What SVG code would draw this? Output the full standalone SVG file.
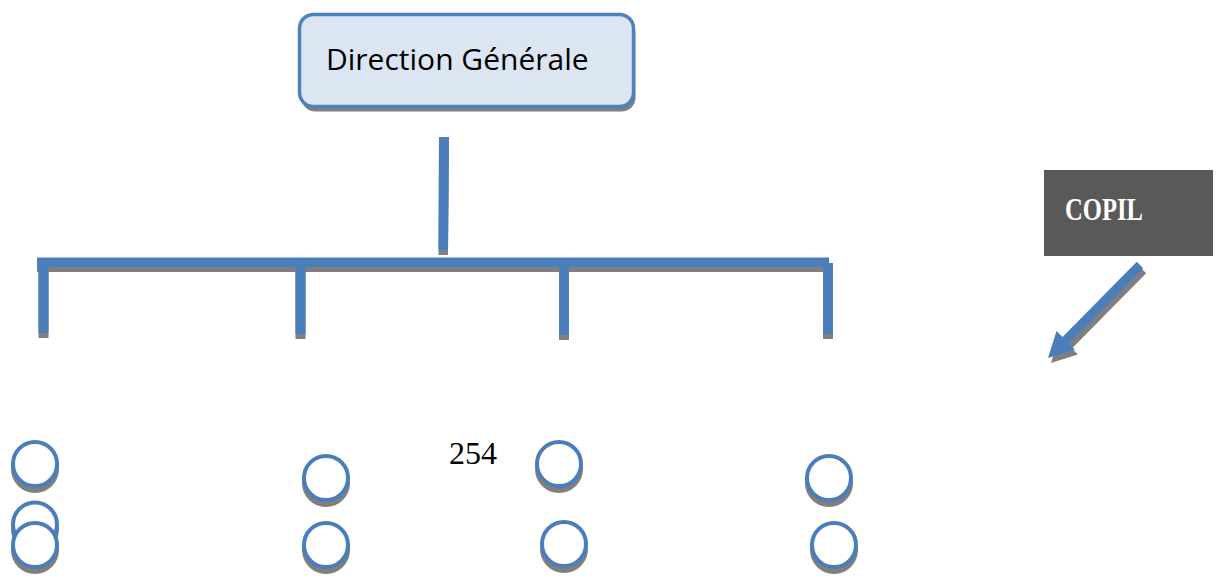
<svg xmlns="http://www.w3.org/2000/svg" xmlns:xlink="http://www.w3.org/1999/xlink" width="1221" height="578" viewBox="0 0 1221 578">
  <style>
    .shadow { fill: #7f7f7f; }
    .blue { fill: #4a7ebb; }
    .ring { fill: #ffffff; stroke: #4a7ebb; stroke-width: 4; }
    .ring-shadow { fill: #7f7f7f; }
    .title { font-family: "Open Sans", "Liberation Sans", sans-serif; font-size: 30px; fill: #000000; }
    .serif { font-family: "Liberation Serif", "DejaVu Serif", serif; }
  </style>
  <defs>
    <!-- organisation tree bars -->
    <g id="tree">
      <polygon points="439,137 449,137 448,250 438.5,250"/>
      <rect x="37" y="257.5" width="792" height="9.5"/>
      <rect x="38.5" y="262" width="10" height="71"/>
      <rect x="295.5" y="262" width="10" height="72"/>
      <rect x="559" y="262" width="10" height="73"/>
      <rect x="823" y="263" width="10" height="71"/>
    </g>
    <!-- diagonal arrow from COPIL -->
    <polygon id="copil-arrow" points="1143.2,268.2 1068.9,343.5 1074.9,349.5 1048,358 1056.5,331.1 1062.5,337.1 1136.8,261.8"/>
    <g id="circle">
      <circle class="ring-shadow" cx="0" cy="5" r="24"/>
      <circle class="ring" cx="0" cy="0" r="22"/>
    </g>
  </defs>

  <rect width="1221" height="578" fill="#ffffff"/>

  <g id="direction-generale">
    <rect x="301.5" y="19.5" width="334" height="92" rx="14" fill="#7f7f7f"/>
    <rect x="299.5" y="14.5" width="334" height="92" rx="14" fill="#dce6f2" stroke="#4f81bd" stroke-width="3.5"/>
    <text class="title" x="326" y="70">Direction Générale</text>
  </g>

  <g id="connectors">
    <use xlink:href="#tree" class="shadow" transform="translate(0,5)"/>
    <use xlink:href="#tree" class="blue"/>
    <use xlink:href="#copil-arrow" class="shadow" transform="translate(3,5)"/>
    <use xlink:href="#copil-arrow" class="blue"/>
  </g>

  <g id="copil">
    <rect x="1044" y="170" width="169" height="86" fill="#595959"/>
    <text class="serif" x="1065" y="219.5" font-size="32" font-weight="bold" fill="#ffffff" textLength="78" lengthAdjust="spacingAndGlyphs">COPIL</text>
  </g>

  <g id="page-number">
    <text class="serif" x="449" y="464" font-size="32" fill="#000000">254</text>
  </g>

  <g id="circles-col1">
    <use xlink:href="#circle" transform="translate(35,464)"/>
    <use xlink:href="#circle" transform="translate(35,524.5)"/>
    <use xlink:href="#circle" transform="translate(35,545)"/>
  </g>
  <g id="circles-col2">
    <use xlink:href="#circle" transform="translate(326,478)"/>
    <use xlink:href="#circle" transform="translate(326,545)"/>
  </g>
  <g id="circles-col3">
    <use xlink:href="#circle" transform="translate(559,464)"/>
    <use xlink:href="#circle" transform="translate(564,544)"/>
  </g>
  <g id="circles-col4">
    <use xlink:href="#circle" transform="translate(829,478)"/>
    <use xlink:href="#circle" transform="translate(834,545)"/>
  </g>
</svg>
